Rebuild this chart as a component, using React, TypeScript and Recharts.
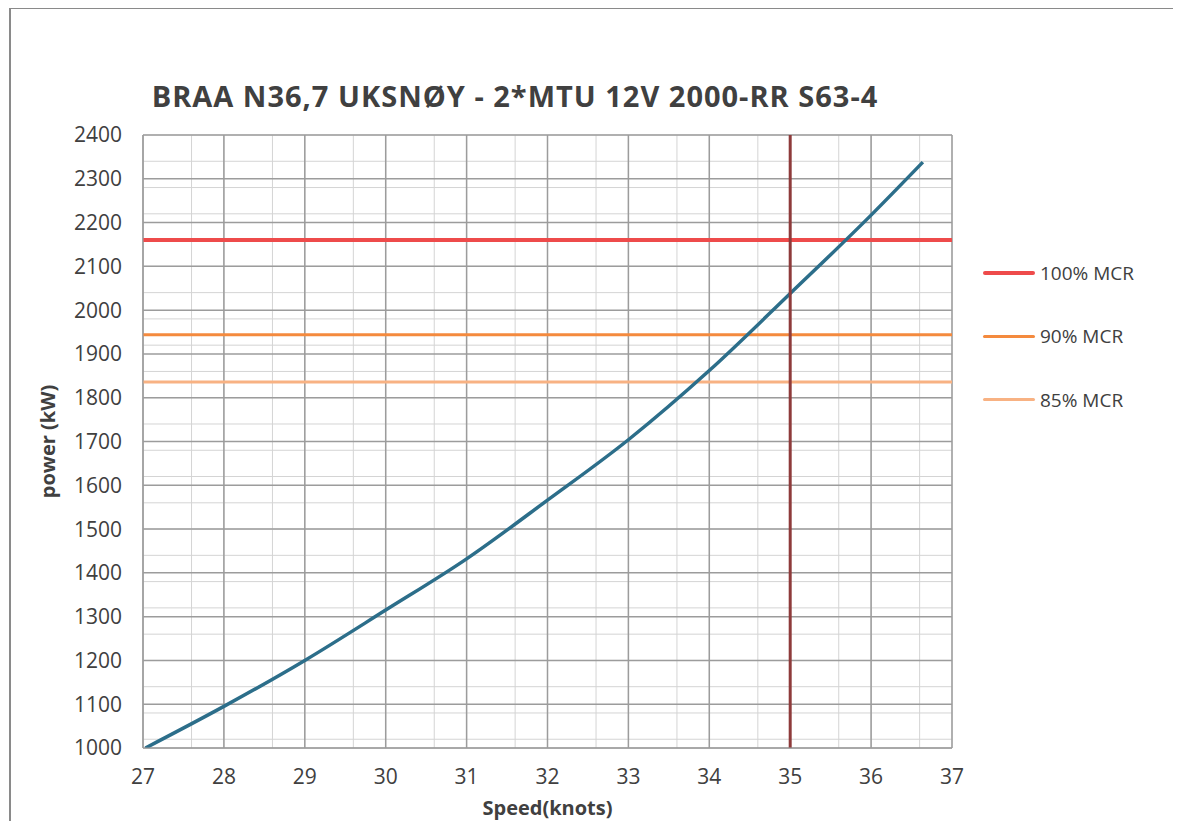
import {
  LineChart,
  Line,
  XAxis,
  YAxis,
  CartesianGrid,
  ReferenceLine,
  Label,
} from "recharts";

// speed (knots) vs. required power (kW)
const speeds = [27.03, 28, 29, 30, 31, 32, 33, 34, 35, 36, 36.64];
const powers = [1000, 1095, 1200, 1315, 1432, 1566, 1704, 1862, 2038, 2217, 2338];

const xTicks = [27, 28, 29, 30, 31, 32, 33, 34, 35, 36, 37];
const yTicks = [1000, 1100, 1200, 1300, 1400, 1500, 1600, 1700, 1800, 1900, 2000, 2100, 2200, 2300, 2400];

const mcrNames = ["100% MCR", "90% MCR", "85% MCR"];
const mcrPowers = [2160, 1944, 1836];
const mcrColors = ["#EE4B4B", "#F48A3E", "#F8B283"];
const mcrWidths = [4, 3, 3];

const designSpeed = 35;

const title = "BRAA N36,7 UKSNØY - 2*MTU 12V 2000-RR S63-4";

const data = speeds.map((s, i) => ({ speed: s, power: powers[i] }));

// minor grid: every 0.2 knot and every 20 kW
const minorX = Array.from({ length: 51 }, (_, i) => 27 + i * 0.2);
const minorY = Array.from({ length: 71 }, (_, i) => 1000 + i * 20);

const font = "'Open Sans', sans-serif";
const textColor = "#404040";

const McrLegend = () => (
  <div style={{ fontFamily: font, fontSize: 19, color: textColor }}>
    {mcrNames.map((name, i) => (
      <div
        key={name}
        style={{ display: "flex", alignItems: "center", height: 63.5 }}
      >
        <div
          style={{
            width: 52,
            height: mcrWidths[i],
            background: mcrColors[i],
            marginRight: 5,
            borderRadius: 2,
          }}
        />
        <span>{name}</span>
      </div>
    ))}
  </div>
);

const App = () => {
  return (
    <div
      style={{
        position: "relative",
        width: 1181,
        height: 829,
        margin: -8,
        background: "#fff",
        overflow: "hidden",
      }}
    >
      {/* scanned frame edge */}
      <div
        style={{
          position: "absolute",
          left: 9,
          top: 7,
          width: 2,
          height: 822,
          background: "#8a8a8a",
        }}
      />
      <div
        style={{
          position: "absolute",
          left: 9,
          top: 7,
          width: 1172,
          height: 2,
          background: "#8a8a8a",
        }}
      />
      <div
        style={{
          position: "absolute",
          left: 0,
          width: 1030,
          top: 76,
          textAlign: "center",
          fontFamily: font,
          fontWeight: 700,
          fontSize: 29,
          letterSpacing: 1,
          color: textColor,
        }}
      >
        {title}
      </div>
      <div style={{ position: "absolute", left: 983, top: 241 }}>
        <McrLegend />
      </div>
      <div style={{ position: "absolute", left: 0, top: 0 }}>
        <LineChart
          width={1181}
          height={829}
          data={data}
          margin={{ top: 135, right: 229, left: 0, bottom: 0 }}
        >
          <CartesianGrid
            stroke="#d4d4d4"
            strokeWidth={1}
            verticalValues={minorX}
            horizontalValues={minorY}
          />
          <CartesianGrid stroke="#9c9c9c" strokeWidth={1.5} />
          <XAxis
            type="number"
            dataKey="speed"
            domain={[27, 37]}
            ticks={xTicks}
            height={81}
            tickSize={0}
            tickMargin={21}
            axisLine={{ stroke: "#9c9c9c" }}
            tick={{ fill: textColor, fontSize: 21, fontFamily: font }}
            allowDataOverflow
          >
            <Label
              value="Speed(knots)"
              position="insideBottom"
              offset={14}
              style={{
                fill: textColor,
                fontSize: 20,
                fontWeight: 700,
                fontFamily: font,
              }}
            />
          </XAxis>
          <YAxis
            type="number"
            domain={[1000, 2400]}
            ticks={yTicks}
            width={143}
            tickSize={0}
            tickMargin={21}
            axisLine={{ stroke: "#9c9c9c" }}
            tick={{ fill: textColor, fontSize: 21, fontFamily: font }}
            allowDataOverflow
          >
            <Label
              value="power (kW)"
              angle={-90}
              position="insideLeft"
              offset={48}
              style={{
                textAnchor: "middle",
                fill: textColor,
                fontSize: 20,
                fontWeight: 700,
                fontFamily: font,
              }}
            />
          </YAxis>
          {mcrPowers.map((p, i) => (
            <ReferenceLine
              key={mcrNames[i]}
              y={p}
              stroke={mcrColors[i]}
              strokeWidth={mcrWidths[i]}
            />
          ))}
          <Line
            type="monotone"
            dataKey="power"
            stroke="#2C6E8A"
            strokeWidth={3.5}
            dot={false}
            isAnimationActive={false}
          />
          <ReferenceLine x={designSpeed} stroke="#8E3B3B" strokeWidth={3} />
        </LineChart>
      </div>
    </div>
  );
};

export default App;
